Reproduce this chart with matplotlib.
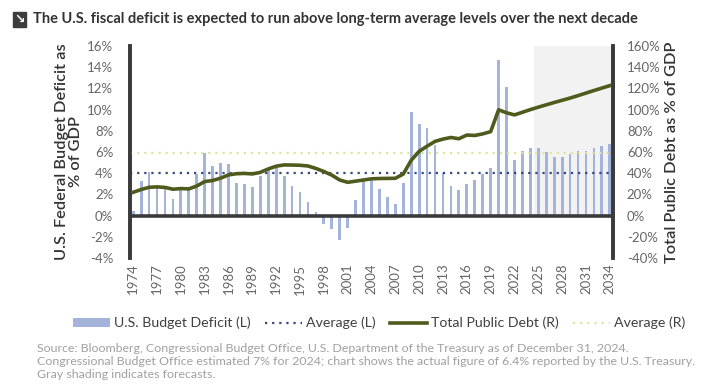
import matplotlib
matplotlib.use("Agg")
import matplotlib.pyplot as plt
from matplotlib.patches import Rectangle, Patch
from matplotlib.lines import Line2D

plt.rcParams['font.family'] = ['Lato', 'DejaVu Sans']

years = list(range(1974, 2035))
deficit = [0.4, 3.3, 4.1, 2.6, 2.6, 1.6, 2.6, 2.5, 3.9, 5.9,
           4.7, 5.0, 4.9, 3.1, 3.0, 2.7, 3.7, 4.4, 4.5, 3.7,
           2.8, 2.2, 1.3, 0.3, -0.8, -1.3, -2.3, -1.2, 1.5, 3.3,
           3.4, 2.5, 1.8, 1.1, 3.1, 9.8, 8.6, 8.3, 6.7, 4.0,
           2.8, 2.4, 3.0, 3.4, 3.9, 4.5, 14.7, 12.1, 5.2, 6.1,
           6.4, 6.4, 6.0, 5.5, 5.5, 5.8, 6.1, 6.1, 6.4, 6.6, 6.8]
debt = [22.0, 24.6, 26.7, 27.1, 26.6, 24.9, 25.5, 25.2, 27.9, 32.1,
        33.1, 35.3, 38.4, 39.5, 39.8, 39.3, 40.8, 44.0, 46.6, 47.8,
        47.7, 47.5, 46.8, 44.5, 41.6, 38.2, 33.6, 31.4, 32.5, 33.6,
        34.7, 35.0, 35.1, 35.2, 39.2, 52.2, 60.6, 65.5, 70.0, 72.2,
        73.7, 72.5, 76.0, 75.6, 77.1, 79.2, 99.8, 97.0, 95.0, 97.5,
        100.0, 102.3, 104.5, 106.7, 108.8, 110.9, 113.2, 115.6, 118.0, 120.3, 122.6]
avg_deficit = 4.0
avg_debt = 59.0
forecast_start = 2025
xtick_years = list(range(1974, 2035, 3))
left_ticks = [-4, -2, 0, 2, 4, 6, 8, 10, 12, 14, 16]
right_ticks = [-40, -20, 0, 20, 40, 60, 80, 100, 120, 140, 160]

title = "The U.S. fiscal deficit is expected to run above long-term average levels over the next decade"
source_lines = [
    "Source: Bloomberg, Congressional Budget Office, U.S. Department of the Treasury as of December 31, 2024.",
    "Congressional Budget Office estimated 7% for 2024; chart shows the actual figure of 6.4% reported by the U.S. Treasury.",
    "Gray shading indicates forecasts.",
]

BAR = '#a3b3da'
AVGL = '#34467e'
LINE = '#4f5b1c'
AVGR = '#dfe59a'
SPINE = '#3a3a3a'
TICK = '#666666'

fig = plt.figure(figsize=(7.2, 3.89), dpi=100)
ax = fig.add_axes([130/720, 1-258/389, (613-130)/720, (258-46)/389])
ax2 = ax.twinx()

ax.set_xlim(1973.6, 2034.4)
ax.set_ylim(-4, 16)
ax2.set_ylim(-40, 160)

ax.axvspan(forecast_start - 0.5, 2034.4, ymin=0.2, ymax=1.0, color='#f2f2f2', zorder=0, lw=0)
ax.bar(years, deficit, width=0.35, color=BAR, zorder=2)
ax.axhline(avg_deficit, color=AVGL, ls=(0, (1, 2.2)), lw=1.6, zorder=3)
ax.axhline(0, color=SPINE, lw=2.6, zorder=4)

ax2.axhline(avg_debt, color=AVGR, ls=(0, (1, 2.2)), lw=1.6, zorder=2)
ax2.plot(years, debt, color=LINE, lw=2.6, zorder=5, solid_joinstyle='round')

for a in (ax, ax2):
    a.spines['top'].set_visible(False)
    a.spines['bottom'].set_visible(False)
    a.spines['left'].set_color(SPINE)
    a.spines['right'].set_color(SPINE)
    a.spines['left'].set_linewidth(2.6)
    a.spines['right'].set_linewidth(2.6)

ax.set_yticks(left_ticks)
ax.set_yticklabels([f"{v}%" for v in left_ticks])
ax2.set_yticks(right_ticks)
ax2.set_yticklabels([f"{v}%" for v in right_ticks])
ax.set_xticks(xtick_years)
ax.set_xticklabels([str(y) for y in xtick_years], rotation=90)
ax.tick_params(axis='y', length=0, labelsize=9.5, labelcolor=TICK, pad=12)
ax2.tick_params(axis='y', length=0, labelsize=9.5, labelcolor=TICK, pad=10)
ax.tick_params(axis='x', length=0, labelsize=9.5, labelcolor=TICK, pad=4)

ax.set_ylabel("U.S. Federal Budget Deficit as\n% of GDP", fontsize=11.8, color='#333333',
              fontweight='semibold', linespacing=1.0, labelpad=3)
ax2.set_ylabel("Total Public Debt as % of GDP", fontsize=11.8, color='#333333',
               fontweight='semibold', labelpad=3)

# title with icon
fig.add_artist(Rectangle((13/720, 1-27/389), 13/720, 15/389, transform=fig.transFigure,
                         color='#3d3d3d', zorder=1))
fig.text(19.5/720, 1-19.5/389, "\u2198", color='white', fontsize=9, fontweight='bold',
         ha='center', va='center', family=['DejaVu Sans'], zorder=2)
fig.text(33/720, 1-19.5/389, title, fontsize=10.5, fontweight='bold', color='#333333',
         ha='left', va='center')

handles = [Patch(facecolor=BAR, edgecolor='none'),
           Line2D([], [], color=AVGL, ls=(0, (1, 2.2)), lw=1.6),
           Line2D([], [], color=LINE, lw=2.6),
           Line2D([], [], color=AVGR, ls=(0, (1, 2.2)), lw=1.6)]
labels = ["U.S. Budget Deficit (L)", "Average (L)", "Total Public Debt (R)", "Average (R)"]
fig.legend(handles, labels, loc='center', bbox_to_anchor=(379/720, 1-323/389), ncol=4,
           frameon=False, fontsize=10.2, labelcolor='#404040', handlelength=2.6,
           handleheight=0.6, columnspacing=1.0, handletextpad=0.3)

for i, line in enumerate(source_lines):
    fig.text(37/720, 1-(348 + 13.5*i)/389, line, fontsize=8.9, color='#a0a0a0',
             ha='left', va='center')

fig.savefig("out.png", dpi=100)
